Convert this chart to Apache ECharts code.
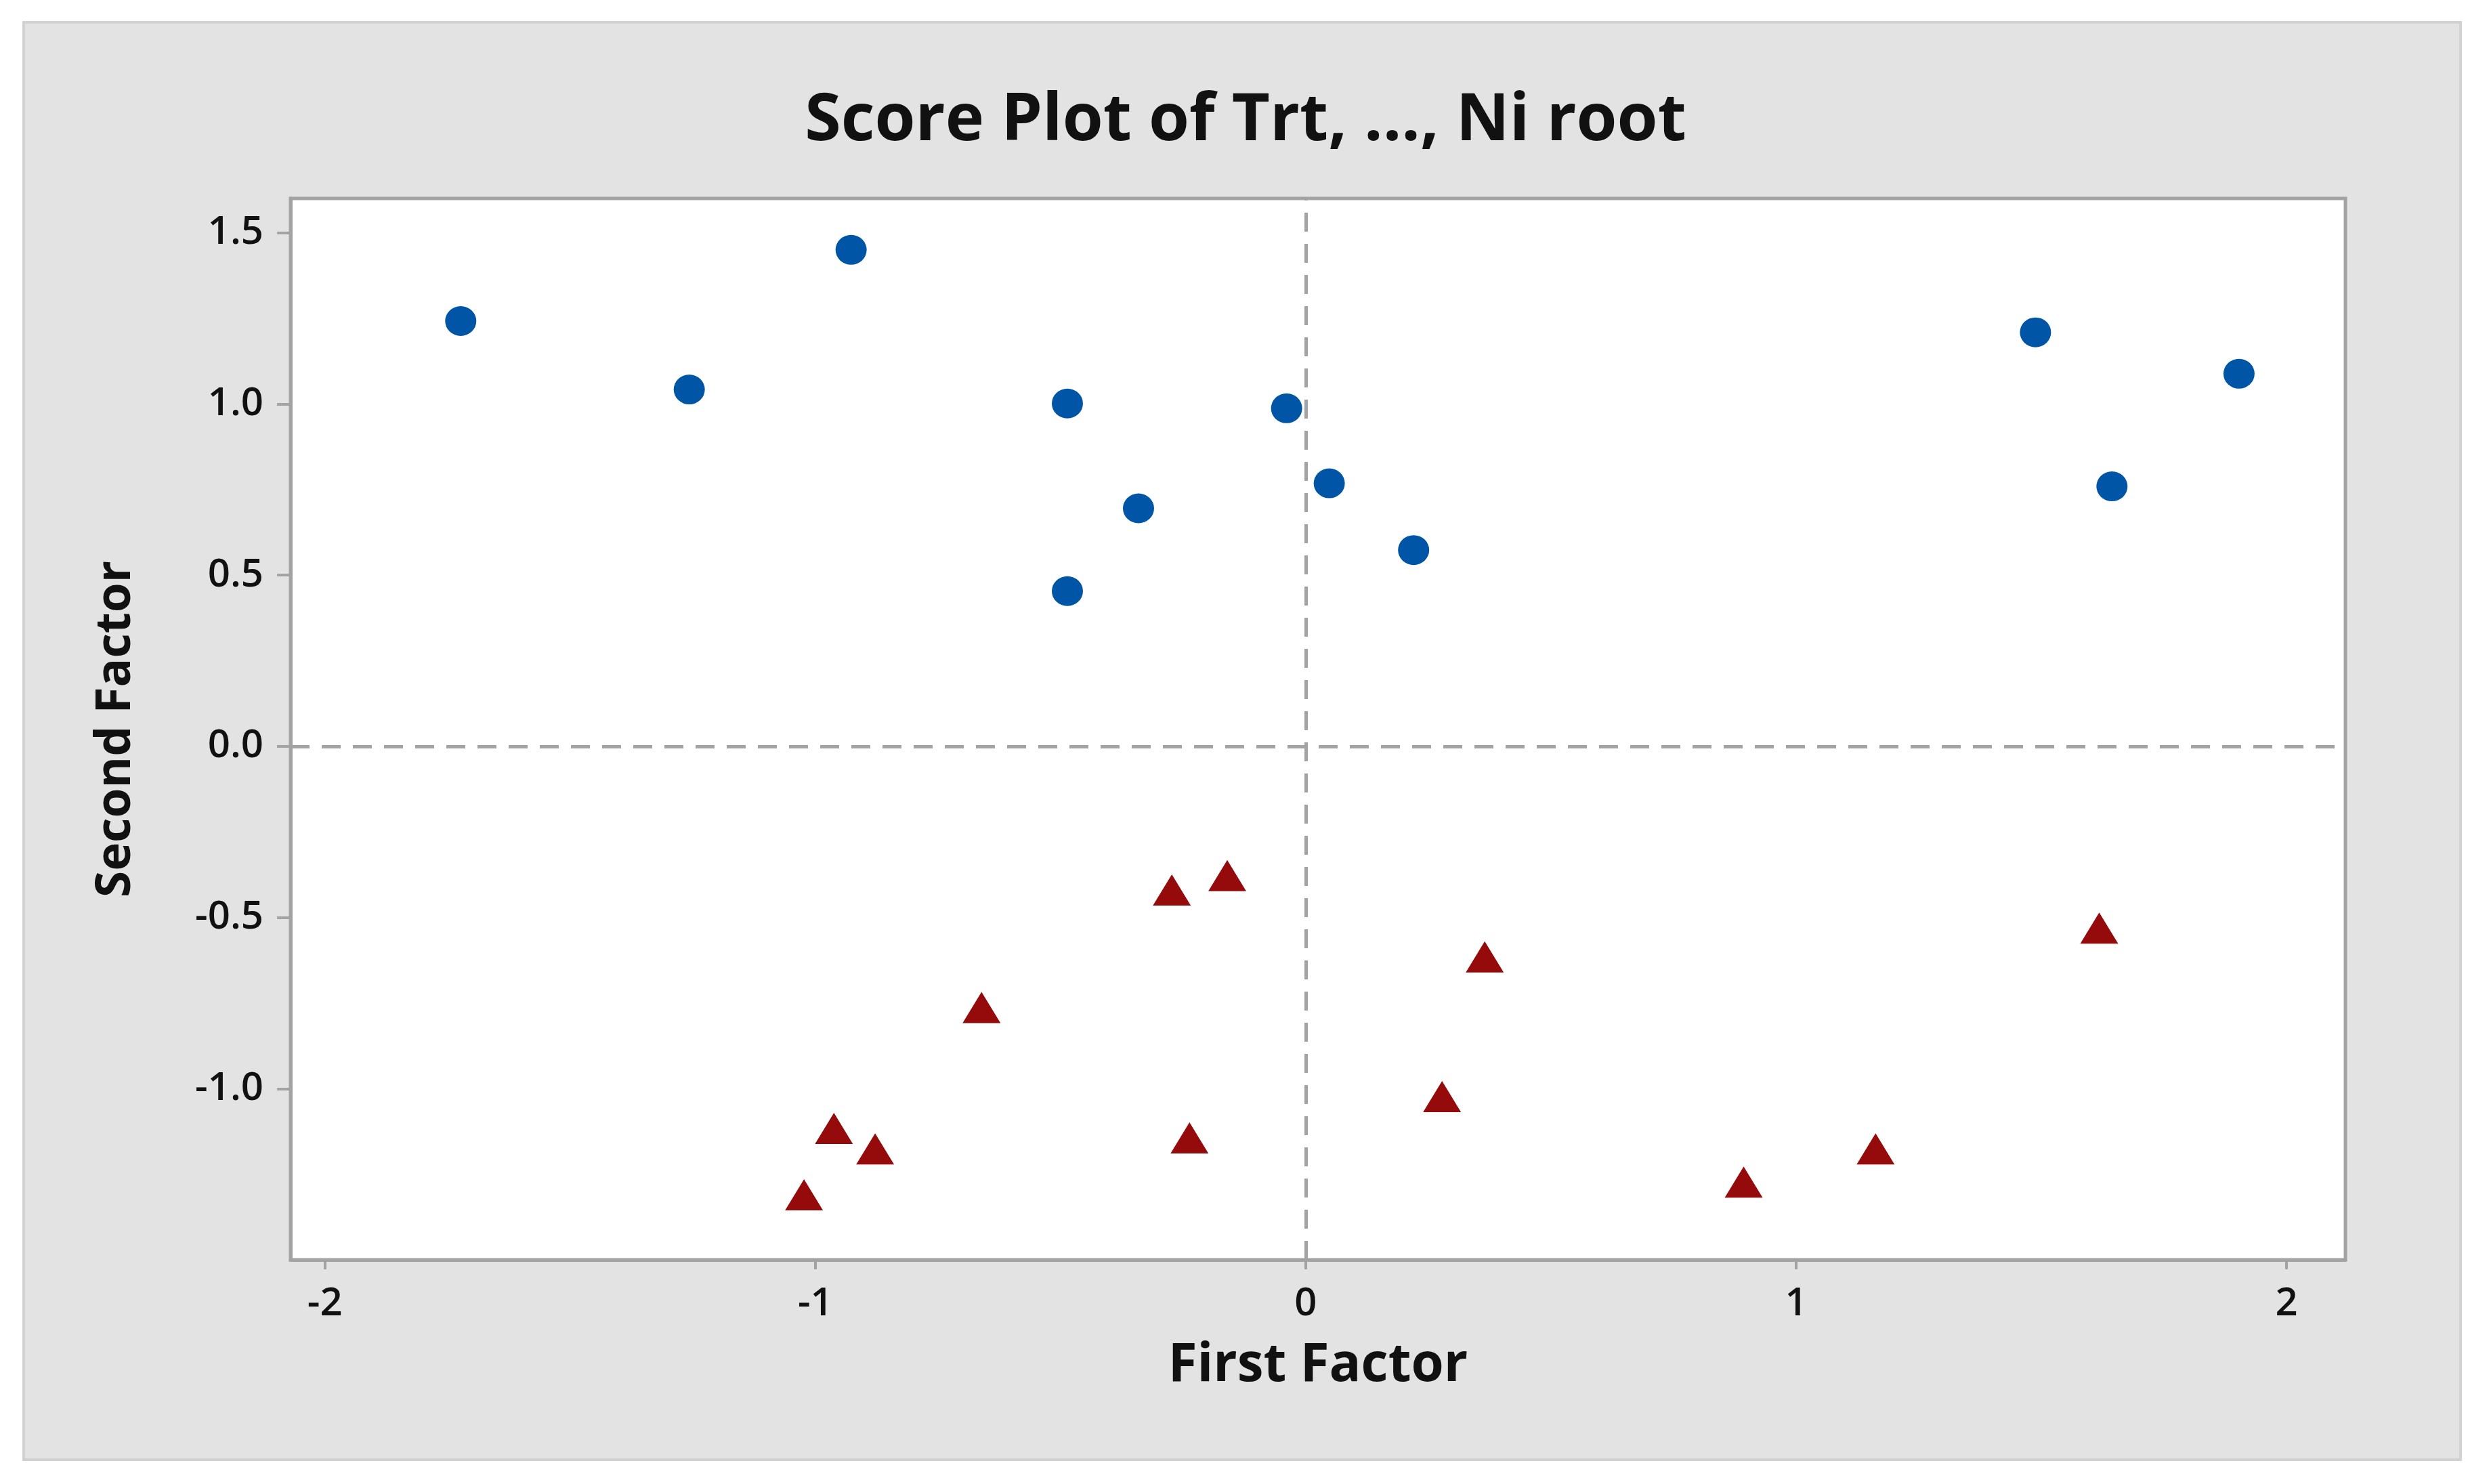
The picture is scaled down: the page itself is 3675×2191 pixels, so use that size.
<!DOCTYPE html>
<html>
<head>
<meta charset="utf-8">
<script src="https://cdn.jsdelivr.net/npm/echarts@6/dist/echarts.min.js"></script>
<style>
html,body{margin:0;padding:0;background:#fff;}
#chart{width:3675px;height:2191px;}
</style>
</head>
<body>
<div id="chart"></div>
<script>
const titleText = 'Score Plot of Trt, ..., Ni root';
const xAxisName = 'First Factor';
const yAxisName = 'Second Factor';
const xTicks = [-2, -1, 0, 1, 2];
const yTicks = [-1.0, -0.5, 0.0, 0.5, 1.0, 1.5];

// Group 1 (blue circles)
const circleX = [-1.723, -0.927, -1.257, -0.486, -0.039, -0.341, -0.486, 0.048, 0.220, 1.488, 1.903, 1.644];
const circleY = [1.242, 1.450, 1.042, 1.001, 0.987, 0.695, 0.453, 0.768, 0.573, 1.209, 1.088, 0.759];
// Group 2 (red triangles)
const triX = [-0.273, -0.160, 0.365, -0.661, 1.618, 0.278, -0.962, -0.878, -0.237, -1.023, 0.893, 1.162];
const triY = [-0.420, -0.378, -0.615, -0.763, -0.531, -1.023, -1.116, -1.176, -1.144, -1.310, -1.273, -1.176];

const circles = circleX.map((x, i) => [x, circleY[i]]);
const triangles = triX.map((x, i) => [x, triY[i]]);

const FONT = '"Open Sans", "Noto Sans", sans-serif';
const chart = echarts.init(document.getElementById('chart'), null, {renderer: 'canvas'});
chart.setOption({
  backgroundColor: '#ffffff',
  animation: false,
  graphic: [{
    type: 'rect', z: -10,
    shape: {x: 35, y: 33, width: 3598, height: 2122},
    style: {fill: '#e3e3e3', stroke: '#d2d2d2', lineWidth: 4}
  }],
  title: {
    text: titleText,
    left: 1834, top: 126, textAlign: 'center',
    textStyle: {fontFamily: FONT, fontWeight: 700, fontSize: 97, color: '#111'}
  },
  grid: {
    left: 429, top: 293, right: 212, bottom: 331,
    show: true, backgroundColor: '#ffffff', borderColor: '#a3a3a3', borderWidth: 5,
    containLabel: false
  },
  xAxis: {
    type: 'value', min: -2.07, max: 2.12,
    name: xAxisName, nameLocation: 'middle', nameGap: 118,
    nameTextStyle: {fontFamily: FONT, fontWeight: 700, fontSize: 78, color: '#111'},
    axisLine: {show: true, onZero: false, lineStyle: {color: '#a3a3a3', width: 5}},
    axisTick: {show: true, customValues: xTicks, length: 14, lineStyle: {color: '#a3a3a3', width: 4}},
    axisLabel: {customValues: xTicks, margin: 36, fontFamily: FONT, fontWeight: 600, fontSize: 58, color: '#111',
      formatter: v => String(Math.round(v))},
    splitLine: {show: false}
  },
  yAxis: {
    type: 'value', min: -1.5, max: 1.6,
    name: yAxisName, nameLocation: 'middle', nameGap: 222, nameRotate: 90,
    nameTextStyle: {fontFamily: FONT, fontWeight: 700, fontSize: 71, color: '#111'},
    axisLine: {show: true, onZero: false, lineStyle: {color: '#a3a3a3', width: 5}},
    axisTick: {show: true, customValues: yTicks, length: 20, lineStyle: {color: '#a3a3a3', width: 4}},
    axisLabel: {customValues: yTicks, margin: 40, fontFamily: FONT, fontWeight: 600, fontSize: 58, color: '#111',
      formatter: v => v.toFixed(1)},
    splitLine: {show: false}
  },
  series: [
    {
      type: 'scatter', name: 'Group 1', data: circles,
      symbol: 'circle', symbolSize: [46, 44],
      itemStyle: {color: '#0055a6', opacity: 1},
      markLine: {
        silent: true, symbol: 'none', animation: false,
        label: {show: false},
        lineStyle: {color: '#a3a3a3', width: 5, type: [28, 18], opacity: 1},
        data: [{xAxis: 0}, {yAxis: 0}]
      },
      z: 3
    },
    {
      type: 'scatter', name: 'Group 2', data: triangles,
      symbol: 'triangle', symbolSize: [56, 46],
      itemStyle: {color: '#950a0a', opacity: 1},
      z: 3
    }
  ]
});
</script>
</body>
</html>
